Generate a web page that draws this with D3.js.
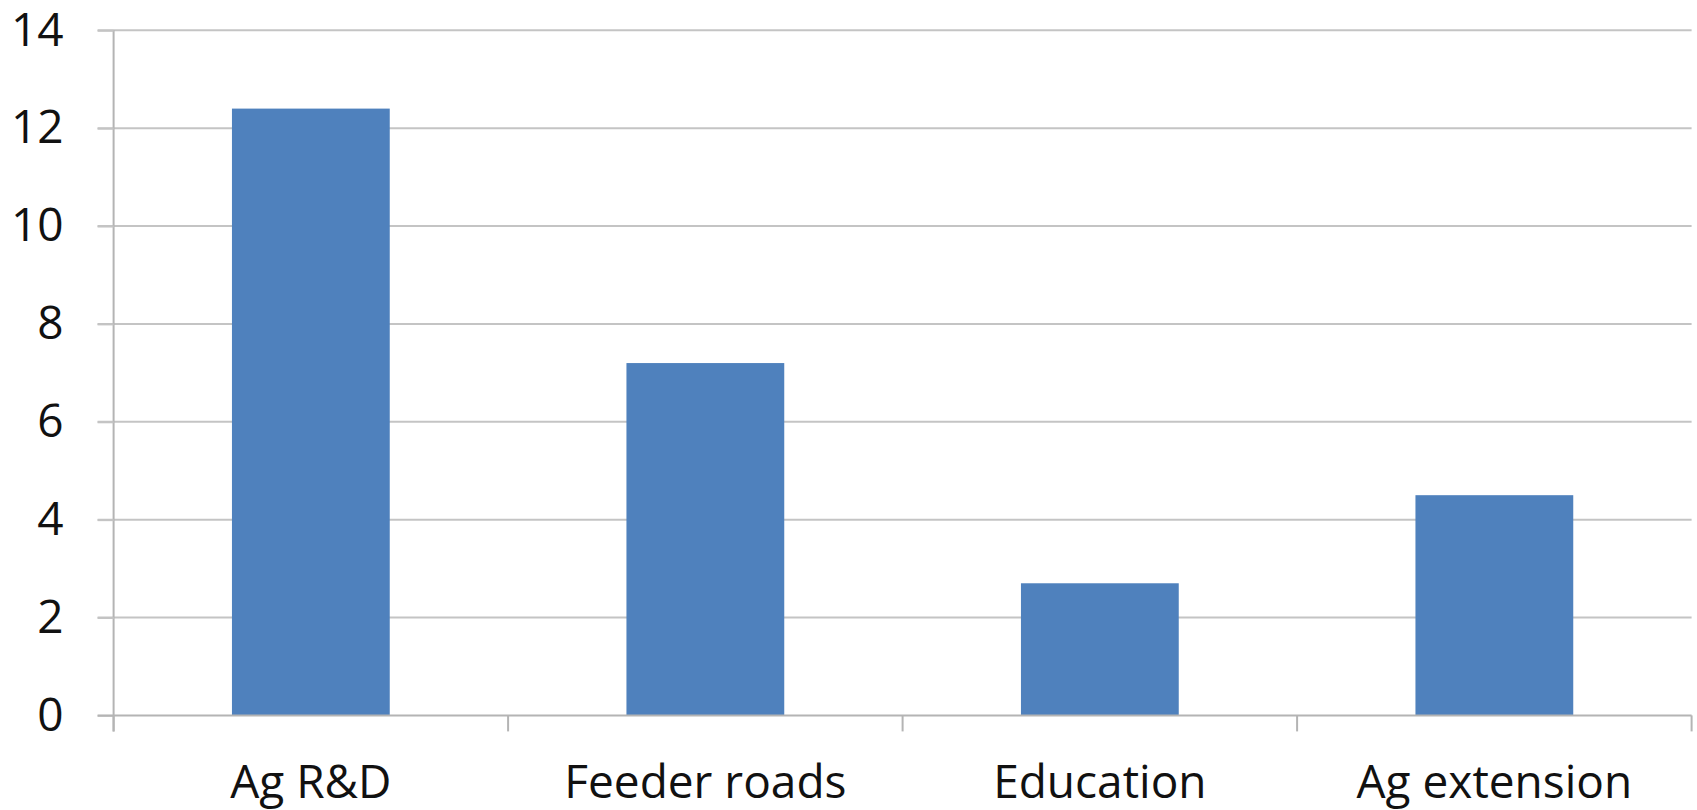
<!DOCTYPE html>
<html>
<head>
<meta charset="utf-8">
<script src="https://cdn.jsdelivr.net/npm/d3@7"></script>
<style>
  html, body { margin: 0; padding: 0; background: #fff; }
  svg { display: block; }
  text { font-family: "Open Sans", "Noto Sans", sans-serif; fill: #111; }
</style>
</head>
<body>
<svg id="chart" width="1697" height="810"></svg>
<script>
// Categories and values
const categories = ["Ag R&D", "Feeder roads", "Education", "Ag extension"];
const values = [12.4, 7.2, 2.7, 4.5];
const yTicks = [0, 2, 4, 6, 8, 10, 12, 14];

const W = 1697, H = 810;
const margin = { top: 30.3, right: 5.4, bottom: 94.6, left: 113.6 };
const innerW = W - margin.left - margin.right;
const innerH = H - margin.top - margin.bottom;

const svg = d3.select("#chart");
const g = svg.append("g").attr("transform", `translate(${margin.left},${margin.top})`);

const x = d3.scaleBand().domain(categories).range([0, innerW]).paddingInner(0.6).paddingOuter(0.3);
const y = d3.scaleLinear().domain([0, 14]).range([innerH, 0]);

// Horizontal gridlines
g.append("g")
  .selectAll("line")
  .data(yTicks.filter(d => d > 0))
  .join("line")
  .attr("x1", -16).attr("x2", innerW)
  .attr("y1", d => y(d)).attr("y2", d => y(d))
  .attr("stroke", "#c4c4c4").attr("stroke-width", 2);

// Bars
g.append("g")
  .selectAll("rect")
  .data(values)
  .join("rect")
  .attr("x", (d, i) => x(categories[i]))
  .attr("y", d => y(d))
  .attr("width", x.bandwidth())
  .attr("height", d => innerH - y(d))
  .attr("fill", "#4f81bd");

// Y axis
const yAxis = g.append("g").call(
  d3.axisLeft(y).tickValues(yTicks).tickSize(16).tickPadding(34)
);
yAxis.select(".domain").attr("stroke", "#b4b4b4").attr("stroke-width", 2)
  .attr("d", `M0,${innerH + 16}V0`);
yAxis.selectAll(".tick line").attr("stroke", "#c4c4c4").attr("stroke-width", 2);
yAxis.selectAll(".tick text").attr("font-size", 46).attr("fill", "#111");

// X axis with category boundary ticks
const xAxisG = g.append("g").attr("transform", `translate(0,${innerH})`);
xAxisG.append("line")
  .attr("x1", -16).attr("x2", innerW)
  .attr("stroke", "#b4b4b4").attr("stroke-width", 2);
const boundaries = d3.range(categories.length + 1).map(i => i * innerW / categories.length);
xAxisG.selectAll(".bound")
  .data(boundaries)
  .join("line")
  .attr("class", "bound")
  .attr("x1", d => d).attr("x2", d => d)
  .attr("y1", 0).attr("y2", 16)
  .attr("stroke", "#b4b4b4").attr("stroke-width", 2);
xAxisG.selectAll(".cat")
  .data(categories)
  .join("text")
  .attr("class", "cat")
  .attr("x", d => x(d) + x.bandwidth() / 2)
  .attr("y", 82.5)
  .attr("text-anchor", "middle")
  .attr("font-size", 46)
  .text(d => d);
</script>
</body>
</html>
